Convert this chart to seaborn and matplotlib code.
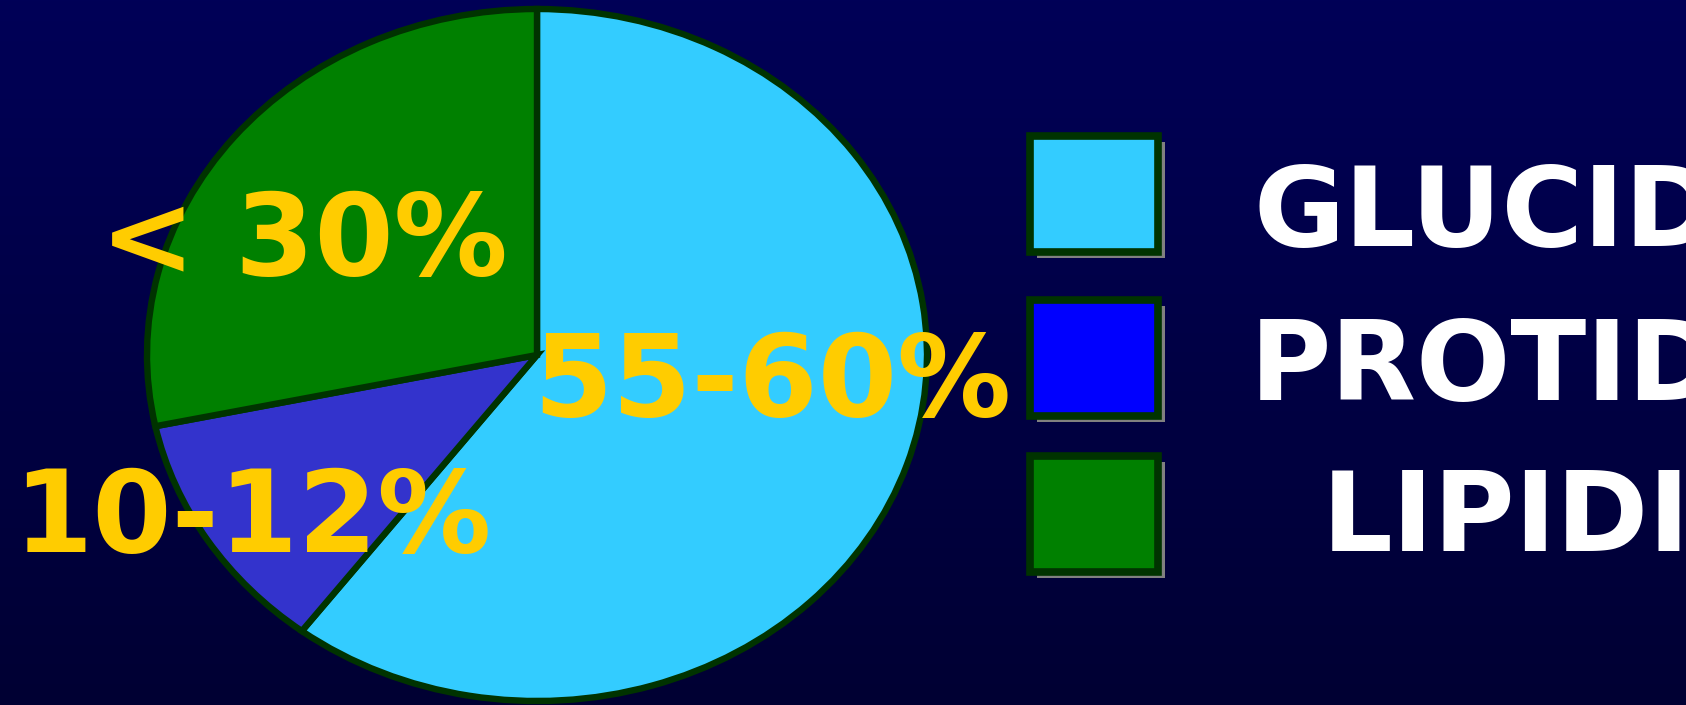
import numpy as np
import matplotlib
matplotlib.use("Agg")
import matplotlib.pyplot as plt
from matplotlib.patches import Rectangle
import seaborn as sns

# data
categories = ["GLUCIDI", "PROTIDI", "LIPIDI"]
shares = [60.3, 11.4, 28.3]
slice_labels = ["55-60%", "10-12%", "< 30%"]
slice_colors = ["#33ccff", "#3333cc", "#008000"]
legend_colors = ["#33ccff", "#0000ff", "#008000"]

sns.set_style("white")
plt.rcParams["font.family"] = ["DejaVu Sans"]

W, H = 1686, 705
fig = plt.figure(figsize=(W / 100, H / 100), dpi=100)

# dark blue gradient background
bg = fig.add_axes([0, 0, 1, 1])
grad = np.linspace(0, 1, 256).reshape(-1, 1)
cmap = matplotlib.colors.LinearSegmentedColormap.from_list("bg", ["#000057", "#000033"])
bg.imshow(grad, aspect="auto", cmap=cmap, extent=[0, 1, 0, 1])
bg.set_axis_off()


def fx(px):
    return px / W


def fy(py):
    return 1 - py / H


# stretched pie (ellipse)
ax = fig.add_axes([fx(147), fy(701), fx(927) - fx(147), fy(9) - fy(701)])
wedges, _ = ax.pie(shares, colors=sns.color_palette(slice_colors), startangle=90,
                   counterclock=False, center=(0.0, 0.0), radius=1,
                   wedgeprops=dict(edgecolor="#003300", linewidth=4.6))
for w in wedges:
    w.set_clip_on(False)
ax.set_aspect("auto")
ax.set_xlim(-1, 1)
ax.set_ylim(-1, 1)
ax.set_axis_off()

gold = "#ffcc00"
label_pos = [(772, 416), (252, 552), (304, 275)]
for lab, (px, py) in zip(slice_labels, label_pos):
    fig.text(fx(px), fy(py), lab, color=gold, fontsize=82, fontweight="bold",
             ha="center", va="baseline")

# legend boxes with shadow
box_tops = [136, 300, 456]
for cat, col, top in zip(categories, legend_colors, box_tops):
    x0, bw, bh = 1030, 128, 116
    fig.patches.append(Rectangle((fx(x0 + 7), fy(top + bh + 6)), fx(bw), bh / H,
                                 transform=fig.transFigure, facecolor="#808080",
                                 edgecolor="none", zorder=2))
    fig.patches.append(Rectangle((fx(x0), fy(top + bh)), fx(bw), bh / H,
                                 transform=fig.transFigure, facecolor=col,
                                 edgecolor="#003300", linewidth=5.5, zorder=3))

legend_base = [246, 400, 551]
for cat, py in zip(categories, legend_base):
    fig.text(fx(1506), fy(py), cat, color="white", fontsize=80, fontweight="bold",
             ha="center", va="baseline")

fig.savefig("out.png", dpi=100)
